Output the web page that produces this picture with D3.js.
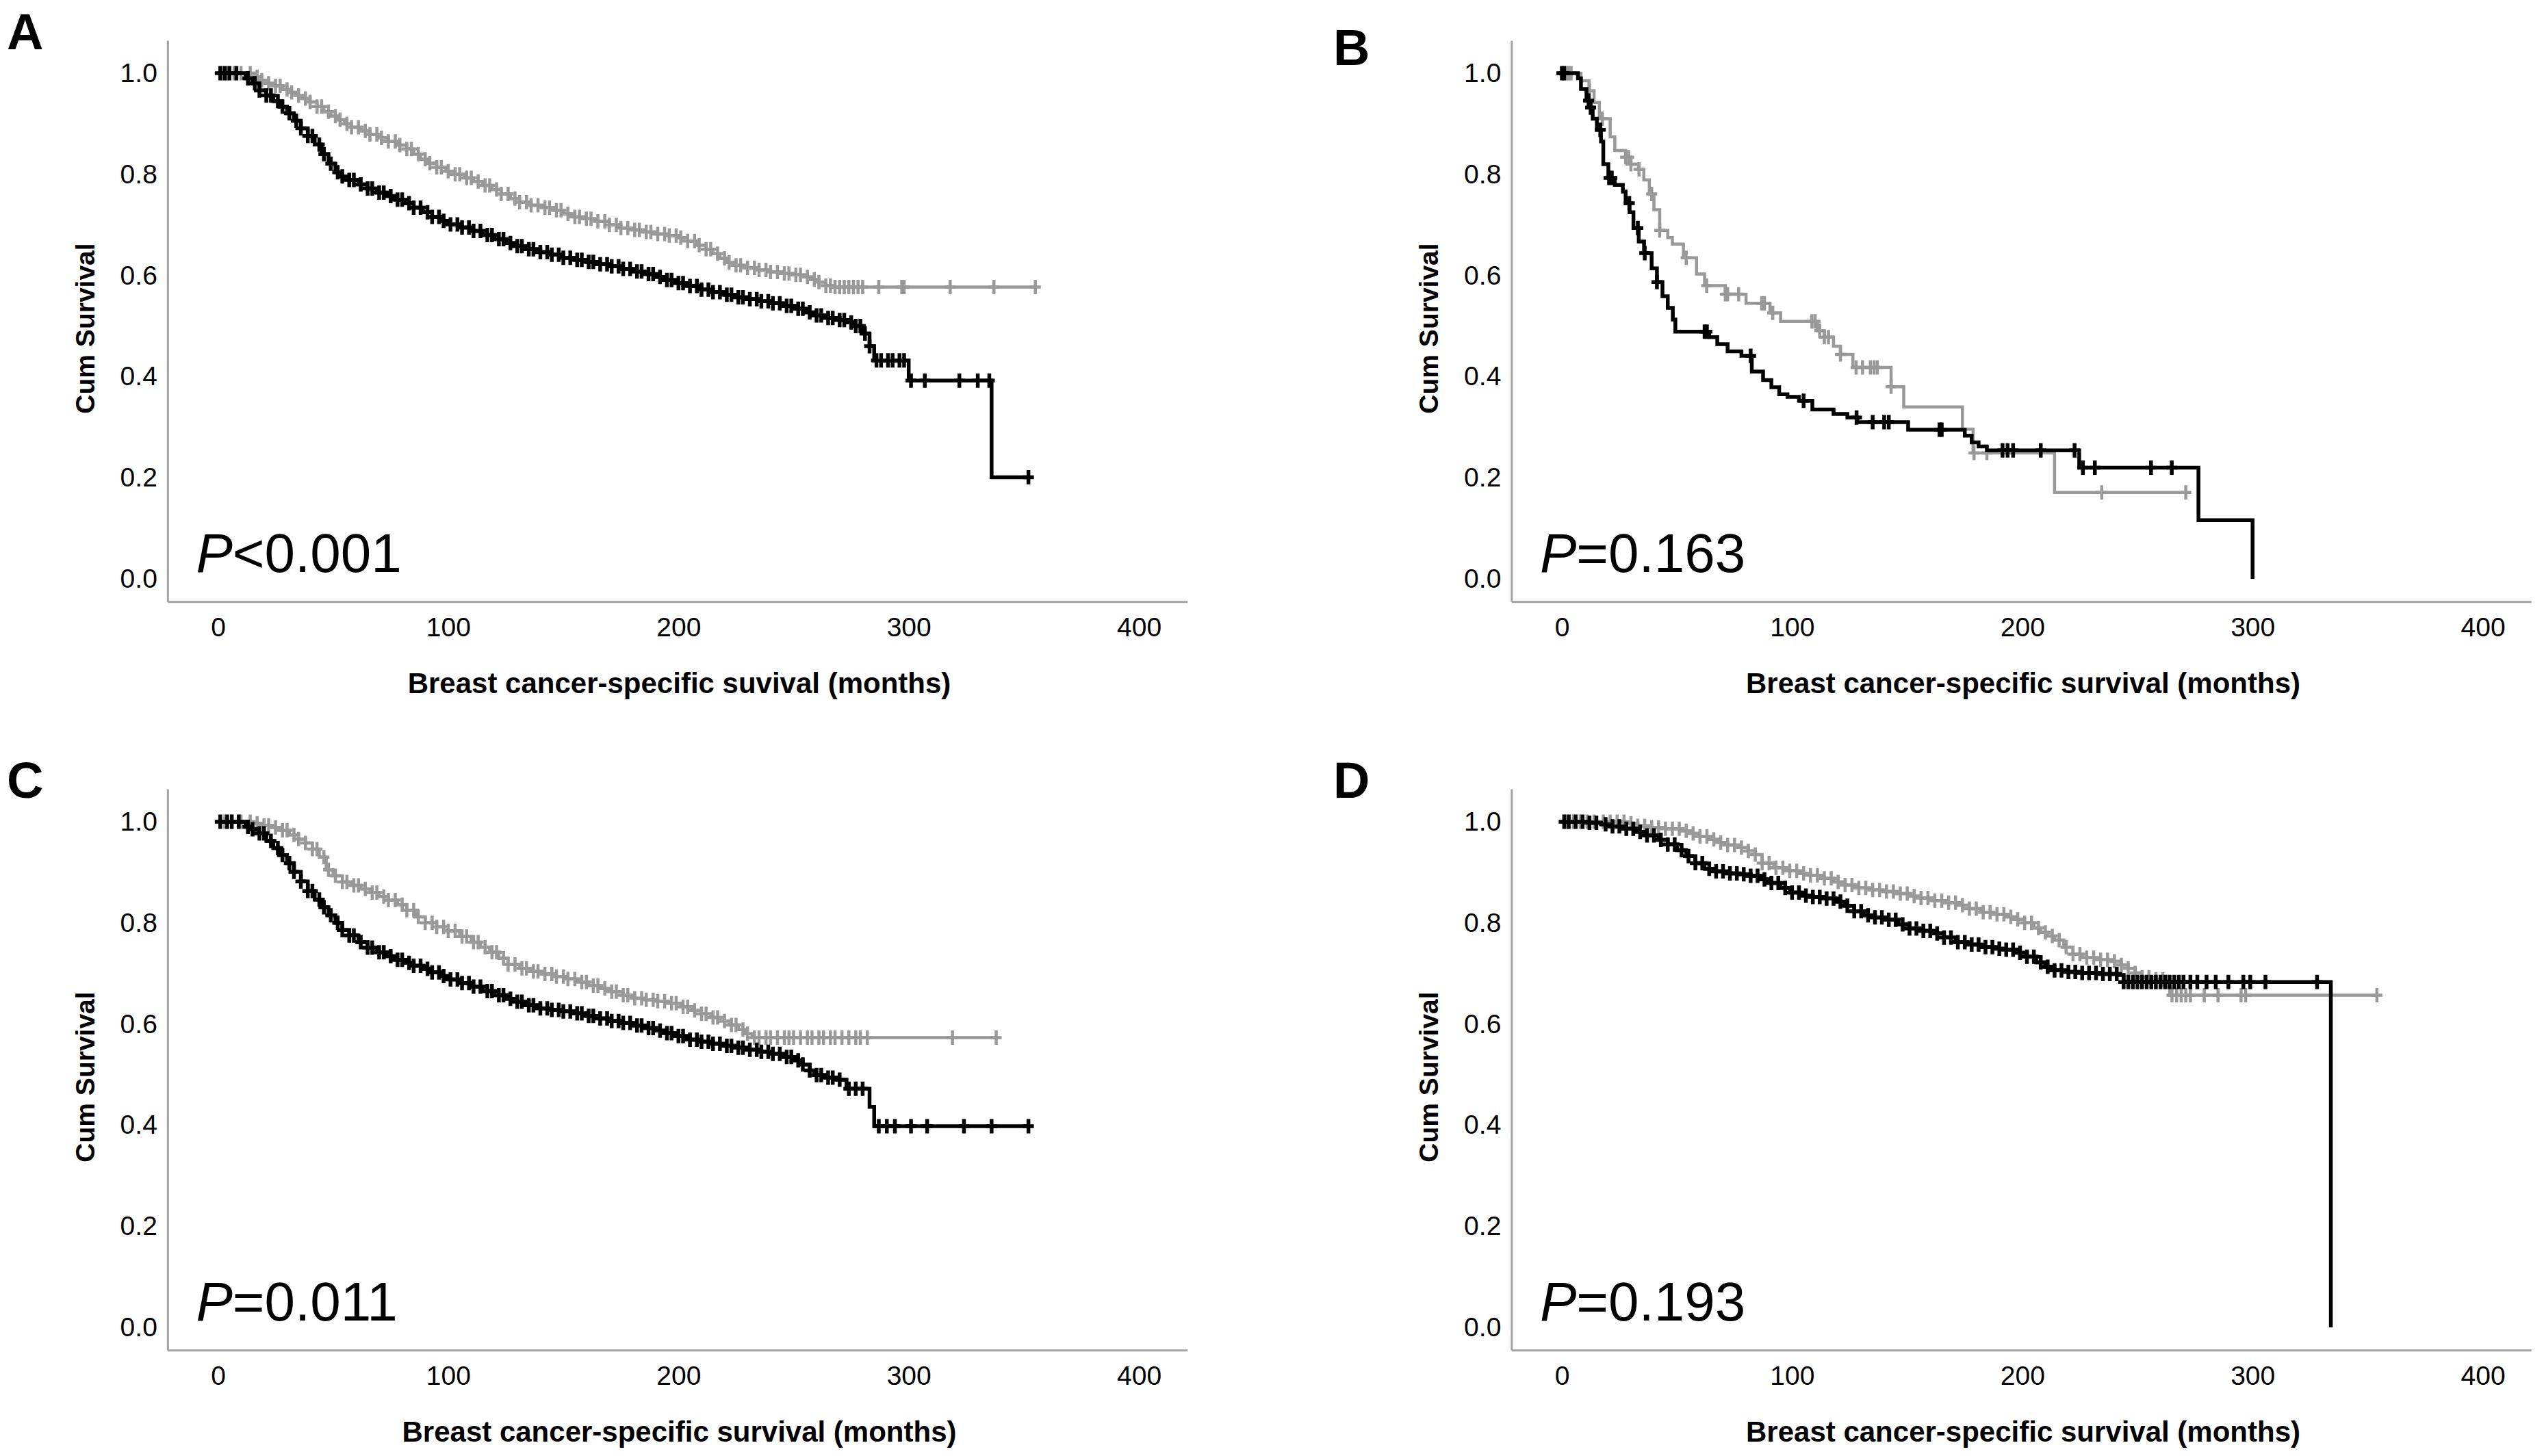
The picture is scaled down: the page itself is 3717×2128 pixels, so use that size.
<!DOCTYPE html>
<meta charset="utf-8">
<style>
body { margin: 0; background: #fff; }
svg text { font-family: "Liberation Sans", Arial, sans-serif; fill: #000; }
</style>
<body>
<script src="https://cdn.jsdelivr.net/npm/d3@7"></script>
<script>

// ---- data: Kaplan-Meier step knots [month, survival], censor times (months) ----
var xTicks = [0, 100, 200, 300, 400];
var yTicks = [0, 0.2, 0.4, 0.6, 0.8, 1.0];
var panelLetters = ["A", "B", "C", "D"];
var pValues = ["<0.001", "=0.163", "=0.011", "=0.193"];
var xTitles = ["Breast cancer-specific suvival (months)", "Breast cancer-specific survival (months)",
               "Breast cancer-specific survival (months)", "Breast cancer-specific survival (months)"];
var yTitle = "Cum Survival";

// A
var aBlack = [[0,1],[12,0.99],[15,0.98],[18,0.966],[21,0.956],[24,0.945],[27,0.934],[30,0.921],[33,0.906],[36,0.891],
  [39,0.876],[42,0.859],[45,0.84],[48,0.821],[51,0.804],[54,0.796],[57,0.789],[61,0.78],[65,0.772],[69,0.764],
  [73,0.757],[77,0.75],[81,0.743],[85,0.734],[89,0.725],[93,0.716],[97,0.708],[101,0.701],[105,0.695],[110,0.688],
  [115,0.68],[120,0.672],[125,0.664],[130,0.658],[135,0.652],[140,0.646],[145,0.641],[150,0.635],[155,0.631],[160,0.627],
  [165,0.622],[170,0.618],[175,0.613],[180,0.608],[185,0.603],[190,0.597],[195,0.591],[200,0.585],[205,0.579],[210,0.572],
  [215,0.567],[220,0.562],[225,0.557],[230,0.553],[235,0.549],[240,0.545],[245,0.54],[250,0.534],[255,0.527],[260,0.521],
  [265,0.516],[270,0.512],[274,0.507],[277,0.5],[280,0.485],[283,0.46],[285,0.432],[300,0.392],[336,0.201]];
var aBlackEnd = 352;
var aBlackCens = [1,3,5,8,13,16,18,21,23,26,28,31,34,36,39,41,44,46,49,52,54,57,59,62,65,67,70,72,75,78,80,83,85,88,91,
  93,96,98,101,104,106,109,111,114,117,119,122,124,127,130,132,135,137,140,143,145,148,150,153,156,158,161,163,166,169,
  171,174,176,179,182,184,187,189,192,195,197,200,202,205,208,210,213,215,218,221,223,226,228,231,234,236,239,241,244,
  247,249,252,254,257,260,262,265,267,270,272,275,277,279,281,283,286,288,291,293,296,298,301,307,322,330,335,352];
var aGray = [[0,1],[16,0.993],[19,0.986],[22,0.98],[25,0.975],[28,0.968],[31,0.962],[34,0.956],[37,0.95],[40,0.943],
  [43,0.934],[46,0.924],[49,0.915],[52,0.908],[55,0.9],[58,0.893],[62,0.886],[66,0.879],[70,0.872],[74,0.865],
  [78,0.858],[82,0.85],[85,0.84],[88,0.83],[91,0.822],[95,0.814],[99,0.806],[103,0.8],[107,0.793],[111,0.786],
  [115,0.778],[119,0.77],[123,0.761],[127,0.752],[131,0.745],[136,0.739],[141,0.734],[146,0.729],[150,0.722],[155,0.716],
  [160,0.712],[165,0.707],[170,0.7],[175,0.694],[180,0.69],[185,0.686],[190,0.682],[195,0.679],[200,0.675],[204,0.668],
  [208,0.66],[212,0.652],[215,0.643],[218,0.634],[221,0.626],[225,0.62],[230,0.615],[235,0.611],[240,0.607],[245,0.604],
  [250,0.601],[255,0.597],[258,0.592],[261,0.587],[264,0.58],[267,0.577]];
var aGrayEnd = 355;
var aGrayCens = [2,4,7,10,14,17,19,22,25,27,30,32,35,38,40,43,45,48,51,53,56,58,61,64,66,69,71,74,77,79,82,84,87,90,92,
  95,97,100,103,105,108,110,113,116,118,121,123,126,129,131,134,136,139,142,144,147,149,152,155,157,160,162,165,168,170,
  173,175,178,181,183,186,188,191,194,196,199,201,204,207,209,212,214,217,220,222,225,227,230,233,235,238,240,243,246,
  248,251,253,256,259,261,264,266,268,270,272,274,276,278,280,287,297,298,318,337,355];

// B
var bBlack = [[0,1],[7,0.99],[8.3,0.969],[10.7,0.946],[11.8,0.932],[13.4,0.91],[15.2,0.888],[17,0.865],[18,0.82],
  [20.2,0.793],[23,0.779],[26.5,0.766],[27.7,0.743],[29.4,0.725],[31.1,0.694],[33.4,0.667],[35.7,0.644],[39,0.614],
  [41.3,0.587],[43.7,0.559],[46,0.536],[48.2,0.513],[49.3,0.489],[64,0.478],[67.5,0.464],[72,0.45],[78,0.441],
  [82.5,0.41],[87.4,0.393],[91,0.379],[94.4,0.365],[98,0.36],[103,0.352],[108.8,0.335],[118,0.326],[124,0.319],
  [128.4,0.31],[150.4,0.295],[175,0.283],[178,0.27],[181,0.262],[184.6,0.254],[224.7,0.22],[276.5,0.116],[300,0]];
var bBlackEnd = 300;
var bBlackCens = [0,1,11.6,12.5,16.7,20.5,21.7,29.3,33,36,41.3,62,63,82,105,128,135,140,142,164,165,191.4,193.6,196,
  208,222.7,226.3,231.5,255.9,264.9];
var bGray = [[0,1],[8.3,0.985],[11.8,0.965],[14,0.942],[16.3,0.91],[21,0.874],[23,0.847],[27.7,0.834],[30,0.82],
  [33.3,0.81],[35.6,0.789],[38,0.761],[40,0.73],[42.5,0.689],[46,0.675],[48,0.662],[52.8,0.635],[58.5,0.603],[62,0.58],
  [71,0.563],[80,0.545],[90.4,0.526],[95,0.509],[111,0.491],[114,0.478],[118,0.46],[121,0.444],[126.4,0.418],
  [143,0.38],[148.5,0.34],[174,0.296],[178.6,0.249],[214,0.171]];
var bGrayEnd = 271;
var bGrayCens = [2,3,4,12,17.6,27.7,29,30,33.5,39,42.5,54,62.9,71,72,76.8,86.8,88,91.6,108.6,110,112,114,115.8,121,
  127.8,130.6,134,135.6,137,143,179,184.6,234.5,271];

// C
var cBlack = [[0,1],[12,0.99],[15,0.985],[18,0.977],[21,0.962],[24,0.948],[27,0.934],[30,0.918],[33,0.901],[36,0.882],
  [39,0.863],[42,0.846],[45,0.831],[48,0.815],[51,0.8],[54,0.786],[57,0.775],[61,0.762],[65,0.751],[69,0.742],
  [73,0.734],[77,0.727],[81,0.721],[85,0.715],[89,0.709],[93,0.702],[97,0.695],[101,0.688],[105,0.681],[110,0.674],
  [115,0.665],[120,0.657],[125,0.65],[130,0.644],[135,0.637],[140,0.631],[145,0.628],[150,0.625],[155,0.621],[160,0.616],
  [165,0.611],[170,0.606],[175,0.602],[180,0.597],[185,0.592],[190,0.587],[195,0.582],[200,0.576],[205,0.569],[210,0.565],
  [215,0.561],[220,0.557],[225,0.553],[230,0.549],[235,0.545],[240,0.541],[245,0.535],[250,0.528],[254,0.52],[257,0.508],
  [259,0.499],[264,0.494],[269,0.49],[273,0.472],[283,0.436],[285,0.398]];
var cBlackEnd = 352;
var cBlackCens = [1,4,6,9,13,15,18,20,23,26,28,31,33,36,39,41,44,46,49,52,54,57,59,62,65,67,70,72,75,78,80,83,85,88,91,
  93,96,98,101,104,106,109,111,114,117,119,122,124,127,130,132,135,137,140,143,145,148,150,153,156,158,161,163,166,169,
  171,174,176,179,182,184,187,189,192,195,197,200,202,205,208,210,213,215,218,221,223,226,228,231,234,236,239,241,244,
  247,249,252,254,257,260,262,265,267,270,274,277,280,287,290.5,294,301,308,324,336,352];
var cGray = [[0,1],[15,0.997],[19,0.993],[23,0.989],[27,0.983],[31,0.974],[35,0.966],[38,0.958],[41,0.946],[44,0.93],
  [47,0.905],[50,0.893],[54,0.881],[58,0.874],[62,0.867],[66,0.86],[70,0.852],[74,0.845],[78,0.836],[82,0.825],
  [86,0.812],[90,0.8],[95,0.792],[100,0.784],[105,0.773],[110,0.762],[114,0.752],[118,0.742],[122,0.73],[126,0.718],
  [131,0.71],[136,0.704],[141,0.699],[146,0.694],[151,0.689],[156,0.683],[161,0.676],[166,0.67],[171,0.664],[176,0.657],
  [181,0.651],[186,0.648],[191,0.645],[196,0.641],[201,0.634],[206,0.627],[210,0.62],[214,0.613],[218,0.606],[222,0.598],
  [226,0.589],[229,0.581],[232,0.573]];
var cGrayEnd = 338;
var cGrayCens = [3,6,10,14,17,20,22,25,28,30,33,35,38,41,43,46,48,51,54,56,59,61,64,67,69,72,74,77,80,82,85,87,90,93,95,
  98,100,103,106,108,111,113,116,119,121,124,126,129,132,134,137,139,142,145,147,150,152,155,158,160,163,165,168,171,173,
  176,178,181,184,186,189,191,194,197,199,202,204,207,210,212,215,217,220,223,225,228,230,233,235,238,240,243,246,248,
  250,253,256,258,261,263,266,268,271,274,277,279,282,319,338];

// D
var dBlack = [[0,1],[12,0.998],[17,0.995],[22,0.991],[27,0.986],[32,0.98],[37,0.973],[42,0.964],[46,0.955],[50,0.944],
  [54,0.932],[58,0.918],[62,0.907],[67,0.902],[72,0.898],[77,0.896],[82,0.893],[87,0.886],[91,0.879],[95,0.869],
  [99,0.86],[104,0.854],[109,0.851],[114,0.848],[119,0.842],[123,0.834],[127,0.823],[131,0.815],[136,0.811],[141,0.806],
  [146,0.797],[151,0.789],[156,0.784],[161,0.779],[166,0.771],[171,0.762],[176,0.757],[182,0.752],[188,0.749],[193,0.747],
  [198,0.741],[202,0.733],[206,0.722],[210,0.713],[214,0.706],[220,0.703],[226,0.701],[234,0.699],[242,0.697],[244,0.683],
  [334,0]];
var dBlackEnd = 334;
var dBlackCens = [1,3,6,9,12,15,19,22,25,28,31,34,37,40,43,46,49,52,55,58,61,64,67,70,73,76,79,82,85,88,91,94,97,100,
  103,106,109,112,115,118,121,124,127,130,133,136,139,142,145,148,151,154,157,160,163,166,169,172,175,178,181,184,187,
  190,193,196,199,202,205,208,211,214,217,220,223,226,229,232,235,238,241,244,246,248,250,252,254,256,258,260,262,264,
  266,268,270,273,276,280,284,289.5,296,299,305.6,328];
var dGray = [[0,1],[28,0.997],[33,0.992],[39,0.989],[45,0.986],[52,0.982],[56,0.977],[60,0.971],[64,0.965],[68,0.959],
  [72,0.954],[77,0.949],[81,0.942],[84,0.935],[87,0.918],[92,0.909],[98,0.903],[103,0.898],[108,0.894],[113,0.888],
  [118,0.881],[123,0.875],[128,0.869],[134,0.865],[140,0.862],[145,0.858],[151,0.853],[156,0.849],[161,0.844],[166,0.84],
  [172,0.835],[177,0.828],[182,0.821],[187,0.817],[193,0.812],[197,0.807],[201,0.8],[205,0.79],[208,0.781],[211,0.774],
  [214,0.766],[218,0.752],[222,0.738],[226,0.731],[232,0.727],[239,0.724],[243,0.717],[246,0.71],[249,0.701],[252,0.692],
  [258,0.688],[262,0.683],[264,0.657]];
var dGrayEnd = 354;
var dGrayCens = [2,5,8,11,14,18,21,24,27,30,33,36,39,42,45,48,51,54,57,60,63,66,69,72,75,78,81,84,87,90,93,96,99,102,
  105,108,111,114,117,120,123,126,129,132,135,138,141,144,147,150,153,156,159,162,165,168,171,174,177,180,183,186,189,
  192,195,198,201,204,207,210,213,216,219,222,225,228,231,234,237,240,243,246,249,252,255,258,261,263,265,267,269,271,
  273,279,285,295,297,354];

// ---- layout ----
var W = 3717, H = 2128;
var gray = "#999999";
var axisGray = "#a3a3a3";

var layout = [
  {x0: 318.5, y0: 846,  lx: 10,   ly: 72},
  {x0: 2282,  y0: 846,  lx: 1948, ly: 95},
  {x0: 318.5, y0: 1940, lx: 10,   ly: 1166},
  {x0: 2282,  y0: 1940, lx: 1948, ly: 1166}
];
var curves = [
  [{pts: aGray, end: aGrayEnd, cens: aGrayCens, color: gray, w: 4.5},
   {pts: aBlack, end: aBlackEnd, cens: aBlackCens, color: "#000", w: 5.5}],
  [{pts: bGray, end: bGrayEnd, cens: bGrayCens, color: gray, w: 4.5},
   {pts: bBlack, end: bBlackEnd, cens: bBlackCens, color: "#000", w: 5.5}],
  [{pts: cGray, end: cGrayEnd, cens: cGrayCens, color: gray, w: 4.5},
   {pts: cBlack, end: cBlackEnd, cens: cBlackCens, color: "#000", w: 5.5}],
  [{pts: dGray, end: dGrayEnd, cens: dGrayCens, color: gray, w: 4.5},
   {pts: dBlack, end: dBlackEnd, cens: dBlackCens, color: "#000", w: 5.5}]
];

var svg = d3.select("body").append("svg")
  .attr("width", W)
  .attr("height", H);

var pxPerMonth = 3.364, pxPerUnit = 739;

function survAt(pts, t) {
  var s = pts[0][1];
  for (var i = 0; i < pts.length; i++) {
    if (pts[i][0] <= t) s = pts[i][1];
  }
  return s;
}

layout.forEach(function(L, k) {
  var xMin = -21.9, xMax = 421, yMin = -0.045, yMax = 1.065;
  var x = d3.scaleLinear().domain([xMin, xMax])
    .range([L.x0 + xMin * pxPerMonth, L.x0 + xMax * pxPerMonth]);
  var y = d3.scaleLinear().domain([yMin, yMax])
    .range([L.y0 - yMin * pxPerUnit, L.y0 - yMax * pxPerUnit]);

  var g = svg.append("g");

  // axes
  var yAxis = g.append("g")
    .attr("transform", "translate(" + x(xMin) + ",0)")
    .call(d3.axisLeft(y).tickValues(yTicks).tickSize(0).tickPadding(15).tickFormat(d3.format(".1f")));
  var xAxis = g.append("g")
    .attr("transform", "translate(0," + y(yMin) + ")")
    .call(d3.axisBottom(x).tickValues(xTicks).tickSize(0).tickPadding(23).tickFormat(d3.format("d")));
  [yAxis, xAxis].forEach(function(a) {
    a.select(".domain").attr("stroke", axisGray).attr("stroke-width", 3);
    a.selectAll("text")
      .style("font-family", "'Liberation Sans', Arial, sans-serif")
      .style("font-size", "39px")
      .attr("fill", "#111");
  });

  // curves
  curves[k].forEach(function(c) {
    var d = "M" + x(c.pts[0][0]) + "," + y(c.pts[0][1]);
    for (var i = 1; i < c.pts.length; i++) {
      d += "H" + x(c.pts[i][0]) + "V" + y(c.pts[i][1]);
    }
    d += "H" + x(c.end);
    g.append("path")
      .attr("d", d)
      .attr("fill", "none")
      .attr("stroke", c.color)
      .attr("stroke-width", c.w)
      .attr("stroke-linejoin", "miter");

    g.selectAll(null)
      .data(c.cens)
      .enter().append("path")
      .attr("d", function(t) {
        var cx = x(t), cy = y(survAt(c.pts, t));
        return "M" + cx + "," + (cy - 10.5) + "V" + (cy + 10.5) + "M" + (cx - 8) + "," + cy + "H" + (cx + 8);
      })
      .attr("fill", "none")
      .attr("stroke", c.color)
      .attr("stroke-width", c.w);
  });

  // titles
  g.append("text")
    .attr("transform", "translate(" + (L.x0 - 194.5) + "," + (L.y0 - 366) + ") rotate(-90)")
    .attr("text-anchor", "middle")
    .attr("dy", "0.35em")
    .style("font-size", "39px")
    .style("font-weight", "bold")
    .text(yTitle);

  g.append("text")
    .attr("x", L.x0 + 674)
    .attr("y", L.y0 + 167)
    .attr("text-anchor", "middle")
    .style("font-size", "42px")
    .style("font-weight", "bold")
    .text(xTitles[k]);

  var p = g.append("text")
    .attr("x", L.x0 - 32)
    .attr("y", L.y0 - 10)
    .style("font-size", "80px")
    .attr("fill", "#111");
  p.append("tspan").style("font-style", "italic").text("P");
  p.append("tspan").text(pValues[k]);

  svg.append("text")
    .attr("x", L.lx)
    .attr("y", L.ly)
    .style("font-size", "74px")
    .style("font-weight", "bold")
    .text(panelLetters[k]);
});

</script>
</body>
